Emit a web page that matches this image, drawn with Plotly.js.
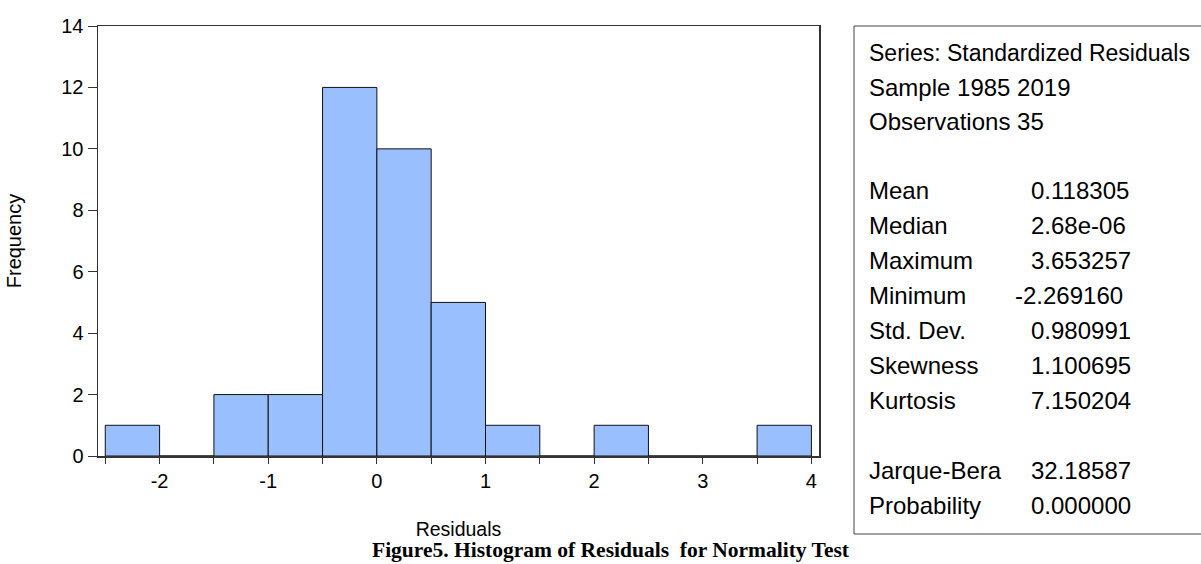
<!DOCTYPE html>
<html>
<head>
<meta charset="utf-8">
<script src="https://cdn.plot.ly/plotly-3.0.1.min.js"></script>
<style>
html,body{margin:0;padding:0;background:#fff;}
#chart{width:1201px;height:564px;}
</style>
</head>
<body>
<div id="chart"></div>
<script>
// Data
const binCenters = [-2.25, -1.75, -1.25, -0.75, -0.25, 0.25, 0.75, 1.25, 1.75, 2.25, 2.75, 3.25, 3.75];
const frequencies = [1, 0, 2, 2, 12, 10, 5, 1, 0, 1, 0, 0, 1];
const xTickVals = [-2.5, -2, -1.5, -1, -0.5, 0, 0.5, 1, 1.5, 2, 2.5, 3, 3.5, 4];
const xTickText = ['', '-2', '', '-1', '', '0', '', '1', '', '2', '', '3', '', '4'];
const yTickVals = [0, 2, 4, 6, 8, 10, 12, 14];
const headerLines = ['Series: Standardized Residuals', 'Sample 1985 2019', 'Observations 35'];
const statNames = ['Mean', 'Median', 'Maximum', 'Minimum', 'Std. Dev.', 'Skewness', 'Kurtosis', '', 'Jarque-Bera', 'Probability'];
const statValues = ['0.118305', '2.68e-06', '3.653257', '-2.269160', '0.980991', '1.100695', '7.150204', '', '32.18587', '0.000000'];
const caption = 'Figure5. Histogram of Residuals  for Normality Test';

const W = 1201, H = 564;
const L = 98, R = 819, T = 26, B = 456;
const pw = R - L, ph = B - T;
const px = x => (x - L) / pw;
const py = y => (B - y) / ph;

const font = 'Arial, Liberation Sans, sans-serif';
const statFont = {family: font, size: 24, color: '#000'};
const annotations = [];
headerLines.forEach((t, i) => {
  annotations.push({xref: 'paper', yref: 'paper', x: px(867), y: py(53 + i * 34.3),
    xanchor: 'left', yanchor: 'middle', text: t, showarrow: false,
    font: {family: font, size: i === 0 ? 23 : 24, color: '#000'}});
});
statNames.forEach((t, i) => {
  if (!t) return;
  const yy = 190 + i * 35.1;
  annotations.push({xref: 'paper', yref: 'paper', x: px(867), y: py(yy),
    xanchor: 'left', yanchor: 'middle', text: t, showarrow: false, font: statFont});
  const v = statValues[i];
  annotations.push({xref: 'paper', yref: 'paper', x: px(v.startsWith('-') ? 1013 : 1029), y: py(yy),
    xanchor: 'left', yanchor: 'middle', text: v, showarrow: false, font: statFont});
});
annotations.push({xref: 'paper', yref: 'paper', x: px(611), y: py(550),
  xanchor: 'center', yanchor: 'middle', text: '<b>' + caption + '</b>', showarrow: false,
  font: {family: 'Times New Roman, Liberation Serif, serif', size: 21.5, color: '#000'}});

const trace = {
  type: 'bar',
  x: binCenters,
  y: frequencies,
  width: 0.5,
  marker: {color: '#99BFFF', line: {color: '#111', width: 1}},
  hoverinfo: 'x+y'
};

const layout = {
  width: W, height: H,
  margin: {l: L, r: W - R, t: T, b: H - B, pad: 0},
  paper_bgcolor: '#fff', plot_bgcolor: '#fff',
  showlegend: false,
  bargap: 0,
  font: {family: font, size: 20, color: '#000'},
  xaxis: {
    range: [-2.567, 4.07],
    tickmode: 'array', tickvals: xTickVals, ticktext: xTickText,
    ticks: 'outside', ticklen: 6, tickwidth: 1, tickcolor: '#333',
    showline: true, linecolor: '#333', linewidth: 1.5, mirror: true,
    showgrid: false, zeroline: false,
    tickfont: {family: font, size: 20, color: '#000'},
    title: {text: 'Residuals', standoff: 32, font: {family: font, size: 19.5, color: '#000'}}
  },
  yaxis: {
    range: [0, 14],
    tickmode: 'array', tickvals: yTickVals,
    ticks: 'outside', ticklen: 9, tickwidth: 1, tickcolor: '#333',
    showline: true, linecolor: '#333', linewidth: 1.5, mirror: true,
    showgrid: false, zeroline: false,
    tickfont: {family: font, size: 20, color: '#000'},
    title: {text: 'Frequency', standoff: 34, font: {family: font, size: 20, color: '#000'}}
  },
  shapes: [{
    type: 'rect', xref: 'paper', yref: 'paper',
    x0: px(854), x1: px(1215), y0: py(534), y1: py(26),
    line: {color: '#444', width: 1}, fillcolor: 'rgba(0,0,0,0)', layer: 'above'
  }],
  annotations: annotations
};

Plotly.newPlot('chart', [trace], layout, {displayModeBar: false, staticPlot: true});
</script>
</body>
</html>
